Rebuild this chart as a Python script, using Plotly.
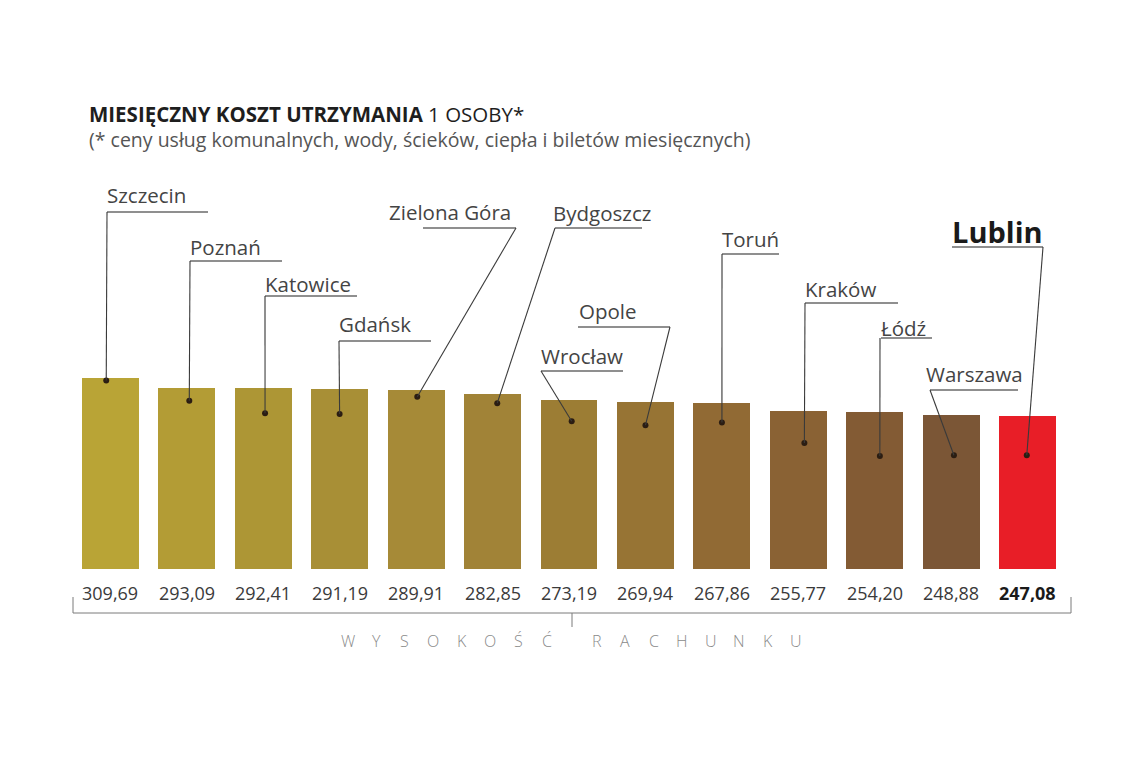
import plotly.graph_objects as go

# data
cities = ["Szczecin", "Poznań", "Katowice", "Gdańsk", "Zielona Góra", "Bydgoszcz",
          "Wrocław", "Opole", "Toruń", "Kraków", "Łódź", "Warszawa", "Lublin"]
costs = [309.69, 293.09, 292.41, 291.19, 289.91, 282.85,
         273.19, 269.94, 267.86, 255.77, 254.20, 248.88, 247.08]
highlight = "Lublin"

TITLE_BOLD = "MIESIĘCZNY KOSZT UTRZYMANIA"
TITLE_REST = "1 OSOBY*"
SUBTITLE = "(* ceny usług komunalnych, wody, ścieków, ciepła i biletów miesięcznych)"
AXIS_WORDS = ["WYSOKOŚĆ", "RACHUNKU"]

bar_colors = ["#B9A436", "#B39C35", "#AD9635", "#A88F36", "#A68A37", "#A18337",
              "#9C7D34", "#977434", "#916A34", "#8A6234", "#835B34", "#7B5636", "#E81E27"]

# page geometry (px); the html body adds an 8px margin round the figure
OFF = 8
W, H = 1140 - 2 * OFF, 761 - 2 * OFF
L, R, T, B = 64, 66, 52, 184
PW, PH = W - L - R, H - T - B
YMAX = 823.6
STEP = PW / len(cities)

# label callouts (page px): text left, text centre y, underline y, underline x0, x1, leader start x
label_layout = [
  (107, 195, 212, 107, 208, 107),
  (190, 247, 261, 190, 282, 190),
  (265, 284, 296, 265, 357, 265),
  (339, 324, 341, 339, 431, 339),
  (389, 212, 228, 423, 516, 516),
  (553, 213, 228, 555, 642, 555),
  (541, 356, 371, 541, 623, 541),
  (579, 311, 327, 578, 670, 670),
  (722, 239, 254, 722, 779, 722),
  (805, 289, 303, 805, 898, 805),
  (881, 328, 338, 881, 932, 880),
  (926, 374, 390, 930, 1018, 930),
  (952, 231, 247, 952, 1043, 1043),
]
# dot offset from bar centre (px) and depth below bar top (px)
dot_dx = [-4, 2.6, 1.9, 0, 1.2, 4.7, 2.7, 0, 0, 6, 5, 2.6, -1]
dot_depth = [3, 13, 25, 25, 7, 9, 21, 23, 19, 32, 44, 40, 39]

FONT = "Open Sans, Noto Sans, sans-serif"


def px_x(px):
  return (px - OFF - L) / PW


def px_y(py):
  return (H - B - (py - OFF)) / PH


def main():
  idx = list(range(len(cities)))
  fig = go.Figure()

  fig.add_trace(go.Bar(
    x=idx, y=costs, width=0.745,
    marker=dict(color=bar_colors, line=dict(width=0)),
    hovertext=cities, hoverinfo="text+y",
  ))

  dot_x = [i + dx / STEP for i, dx in zip(idx, dot_dx)]
  dot_y = [v - d * YMAX / PH for v, d in zip(costs, dot_depth)]
  fig.add_trace(go.Scatter(
    x=dot_x, y=dot_y, mode="markers",
    marker=dict(size=6, color="#2b1d12"), hoverinfo="skip",
  ))

  shapes = []
  annotations = []
  for i, city in enumerate(cities):
    tx, ty, uy, ux0, ux1, lx = label_layout[i]
    bold = city == highlight
    annotations.append(dict(
      xref="paper", yref="paper", x=px_x(tx - 2), y=px_y(ty),
      xanchor="left", yanchor="middle", showarrow=False,
      text=f"<b>{city}</b>" if bold else city,
      font=dict(family=FONT, size=29 if bold else 20.5, color="#1a1a1a" if bold else "#444444"),
    ))
    shapes.append(dict(type="line", xref="paper", yref="paper",
                       x0=px_x(ux0), x1=px_x(ux1), y0=px_y(uy), y1=px_y(uy),
                       line=dict(color="#6a6a6a", width=1.3)))
    # leader line from underline to dot (dot back in page px)
    dpx = OFF + L + (dot_x[i] + 0.5) * STEP
    dpy = OFF + H - B - dot_y[i] * PH / YMAX
    shapes.append(dict(type="line", xref="paper", yref="paper",
                       x0=px_x(lx), y0=px_y(uy), x1=px_x(dpx), y1=px_y(dpy),
                       line=dict(color="#3a3a3a", width=1.1)))

    val = f"{costs[i]:.2f}".replace(".", ",")
    annotations.append(dict(
      xref="x", yref="paper", x=i, y=px_y(593), xanchor="center", yanchor="middle",
      showarrow=False, text=f"<b>{val}</b>" if bold else val,
      font=dict(family=FONT, size=18, color="#1a1a1a" if bold else "#3a3a3a"),
    ))

  # bracket under the values
  bx0, bx1, bmid = 73, 1071, 572
  for x0, y0, x1, y1 in [(bx0, 613, bx1, 613), (bx0, 597, bx0, 613),
                         (bx1, 597, bx1, 613), (bmid, 613, bmid, 627)]:
    shapes.append(dict(type="line", xref="paper", yref="paper",
                       x0=px_x(x0), y0=px_y(y0), x1=px_x(x1), y1=px_y(y1),
                       line=dict(color="#7a7a7a", width=1)))

  # spaced axis caption, one letter at a time
  pos = []
  j = 0.0
  for w, word in enumerate(AXIS_WORDS):
    if w > 0:
      j += 0.75
    for ch in word:
      pos.append((j, ch))
      j += 1
  span = pos[-1][0]
  for jj, ch in pos:
    annotations.append(dict(
      xref="paper", yref="paper", x=px_x(bmid + (jj - span / 2) * 28.5), y=px_y(641),
      xanchor="center", yanchor="middle", showarrow=False, text=ch,
      font=dict(family=FONT, size=16, color="#8a8a8a", weight=300),
    ))

  # title
  annotations.append(dict(
    xref="paper", yref="paper", x=px_x(87), y=px_y(114), xanchor="left", yanchor="middle",
    showarrow=False, text=f"<b>{TITLE_BOLD}</b> {TITLE_REST}",
    font=dict(family=FONT, size=20.5, color="#1e1e1e"),
  ))
  annotations.append(dict(
    xref="paper", yref="paper", x=px_x(87), y=px_y(139), xanchor="left", yanchor="middle",
    showarrow=False, text=SUBTITLE,
    font=dict(family=FONT, size=19.5, color="#555555"),
  ))

  fig.update_layout(
    width=W, height=H, autosize=False,
    margin=dict(l=L, r=R, t=T, b=B),
    paper_bgcolor="white", plot_bgcolor="white",
    showlegend=False, bargap=0,
    xaxis=dict(range=[-0.5, len(cities) - 0.5], visible=False, fixedrange=True),
    yaxis=dict(range=[0, YMAX], visible=False, fixedrange=True),
    shapes=shapes, annotations=annotations,
  )

  fig.write_html("out.html")


if __name__ == "__main__":
  main()
